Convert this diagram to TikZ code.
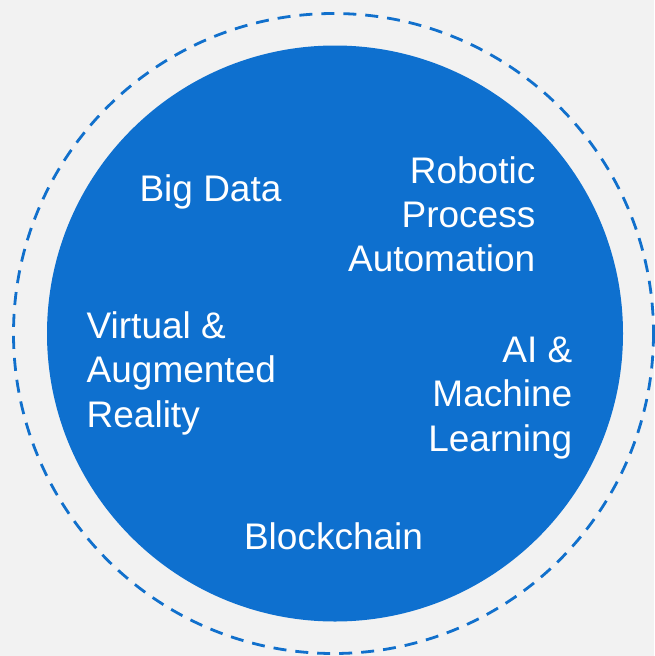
\documentclass[tikz,border=0pt]{standalone}
\usepackage{fontspec}
\setmainfont{Liberation Sans}
\definecolor{bgc}{HTML}{F2F2F2}
\definecolor{blu}{HTML}{0E70CF}
\definecolor{dsh}{HTML}{1170CC}
\begin{document}
\begin{tikzpicture}[x=1pt,y=-1pt,
  lbl/.style={text=white,inner sep=0pt,font=\fontsize{37}{44}\selectfont},
  lblr/.style={lbl,anchor=base east},
  lbll/.style={lbl,anchor=base west},
  lblc/.style={lbl,anchor=base}]
\fill[bgc] (0,0) rectangle (654,656);
\useasboundingbox (0,0) rectangle (654,656);
\draw[dsh,line width=2.8pt,dash pattern=on 13pt off 9pt] (333.5,333.5) circle[radius=320];
\fill[blu] (335,333.5) circle[radius=288];
\node[lblc] (bd) at (210.5,201.5) {Big Data};
\node[lblr] (r1) at (535.5,183.5) {Robotic};
\node[lblr] (r2) at (535.5,227.5) {Process};
\node[lblr] (r3) at (535.5,271.5) {Automation};
\node[lbll] (v1) at (86.5,338) {Virtual \&};
\node[lbll] (v2) at (86.5,382.5) {Augmented};
\node[lbll] (v3) at (86.5,427) {Reality};
\node[lblr] (a1) at (572.5,362) {AI \&};
\node[lblr] (a2) at (572.5,406.5) {Machine};
\node[lblr] (a3) at (572.5,451) {Learning};
\node[lblc] (bc) at (333.5,549.5) {Blockchain};
\end{tikzpicture}
\end{document}
